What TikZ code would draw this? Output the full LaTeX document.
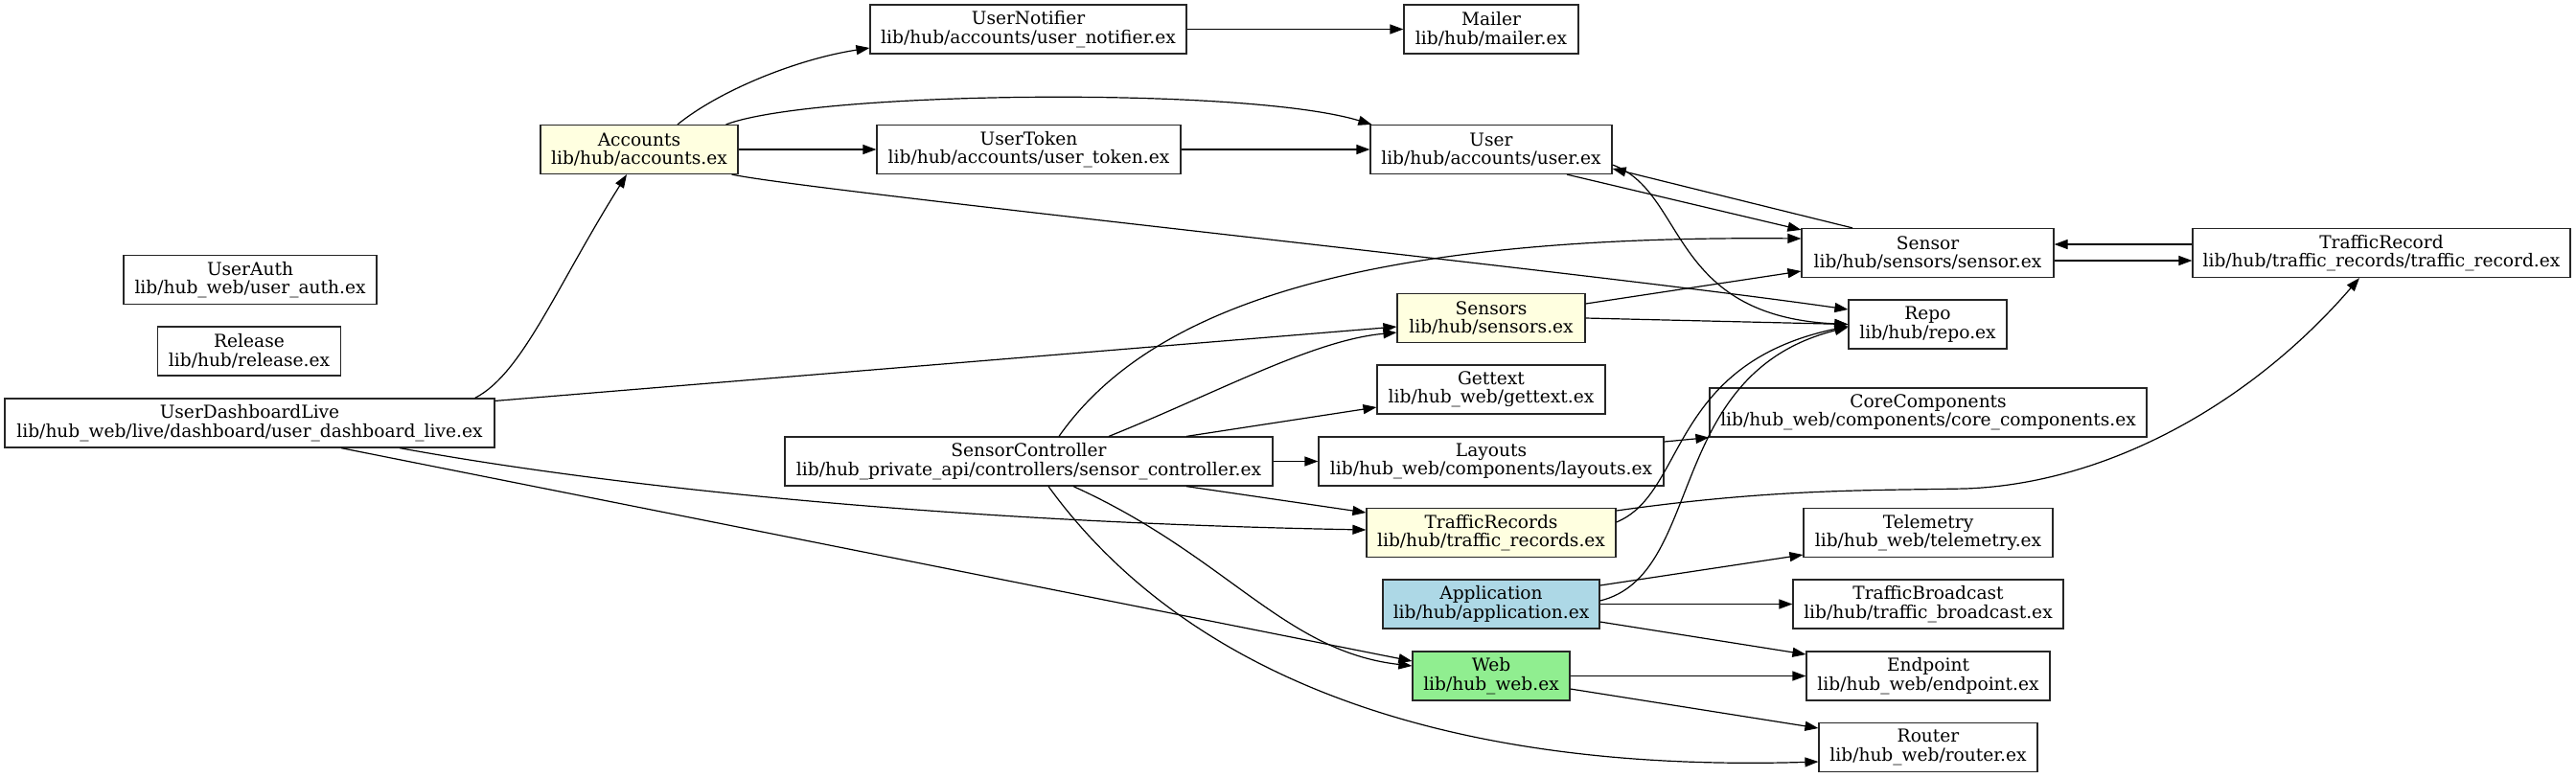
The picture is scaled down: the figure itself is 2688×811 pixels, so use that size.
\documentclass[tikz,border=0pt]{standalone}
\usepackage{fontspec}
\setmainfont{DejaVu Serif}
\usetikzlibrary{arrows.meta}
\definecolor{lyellow}{HTML}{FFFFE0}
\definecolor{lblue}{HTML}{ADD8E6}
\definecolor{lgreen}{HTML}{90EE90}
\begin{document}
\begin{tikzpicture}[x=0.5pt,y=-0.5pt,
  mod/.style={draw=black!85, line width=0.6pt, minimum height=25.5pt, inner sep=0pt, align=center, font=\fontsize{9.3}{9.75}\selectfont},
  dep/.style={-{Triangle[length=7pt,width=5pt]}, line width=0.6pt}]
\useasboundingbox (0,0) rectangle (2688,811);
% nodes
\node[mod, minimum width=165pt] (UserNotifier) at (1073,30.5) {UserNotifier\\lib/hub/accounts/user\_notifier.ex};
\node[mod, minimum width=91pt] (Mailer) at (1556,30.5) {Mailer\\lib/hub/mailer.ex};
\node[mod, minimum width=103pt, fill=lyellow] (Accounts) at (667,156) {Accounts\\lib/hub/accounts.ex};
\node[mod, minimum width=158.5pt] (UserToken) at (1073.5,156) {UserToken\\lib/hub/accounts/user\_token.ex};
\node[mod, minimum width=126pt] (User) at (1556,156) {User\\lib/hub/accounts/user.ex};
\node[mod, minimum width=131.5pt] (Sensor) at (2011.5,264) {Sensor\\lib/hub/sensors/sensor.ex};
\node[mod, minimum width=197pt] (TrafficRecord) at (2485,264) {TrafficRecord\\lib/hub/traffic\_records/traffic\_record.ex};
\node[mod, minimum width=132pt] (UserAuth) at (261,292) {UserAuth\\lib/hub\_web/user\_auth.ex};
\node[mod, minimum width=98pt, fill=lyellow] (Sensors) at (1556,332) {Sensors\\lib/hub/sensors.ex};
\node[mod, minimum width=82.5pt] (Repo) at (2011.5,338.5) {Repo\\lib/hub/repo.ex};
\node[mod, minimum width=95.5pt] (Release) at (260,366.5) {Release\\lib/hub/release.ex};
\node[mod, minimum width=119pt] (Gettext) at (1556,406.5) {Gettext\\lib/hub\_web/gettext.ex};
\node[mod, minimum width=228pt] (CoreComponents) at (2012,430.5) {CoreComponents\\lib/hub\_web/components/core\_components.ex};
\node[mod, minimum width=255.5pt] (UserDashboardLive) at (260.5,441.5) {UserDashboardLive\\lib/hub\_web/live/dashboard/user\_dashboard\_live.ex};
\node[mod, minimum width=254.5pt] (SensorController) at (1073.5,481.5) {SensorController\\lib/hub\_private\_api/controllers/sensor\_controller.ex};
\node[mod, minimum width=180pt] (Layouts) at (1556,481.5) {Layouts\\lib/hub\_web/components/layouts.ex};
\node[mod, minimum width=130pt, fill=lyellow] (TrafficRecords) at (1556,556) {TrafficRecords\\lib/hub/traffic\_records.ex};
\node[mod, minimum width=130pt] (Telemetry) at (2012,556) {Telemetry\\lib/hub\_web/telemetry.ex};
\node[mod, minimum width=113pt, fill=lblue] (Application) at (1556,630.5) {Application\\lib/hub/application.ex};
\node[mod, minimum width=141pt] (TrafficBroadcast) at (2012,630.5) {TrafficBroadcast\\lib/hub/traffic\_broadcast.ex};
\node[mod, minimum width=82pt, fill=lgreen] (Web) at (1556,705.5) {Web\\lib/hub\_web.ex};
\node[mod, minimum width=127pt] (Endpoint) at (2012,705.5) {Endpoint\\lib/hub\_web/endpoint.ex};
\node[mod, minimum width=114pt] (Router) at (2012,780) {Router\\lib/hub\_web/router.ex};
% edges
\draw[dep] ([xshift=20pt]Accounts.north) .. controls (750,95) and (830,62) .. ([yshift=-9.75pt]UserNotifier.west);
\draw[dep] ([xshift=-6.5pt]Accounts.north east) .. controls (850,95) and (1300,90) .. ([xshift=1pt]User.north west);
\draw[dep] (Accounts.east) -- (UserToken.west);
\draw[dep] (UserToken.east) -- (User.west);
\draw[dep] (UserNotifier.east) -- (Mailer.west);
\draw[dep] ([xshift=-3.5pt]Accounts.south east) .. controls (850,200) and (1650,283) .. ([yshift=7.75pt]Repo.west);
\draw[dep] ([xshift=39.5pt]User.south) -- ([yshift=-1pt]Sensor.north west);
\draw[dep] ([xshift=-39.25pt]Sensor.north) -- ([yshift=-10pt]User.east);
\draw[dep] ([yshift=-4pt]Sensor.east) -- ([yshift=-4pt]TrafficRecord.west);
\draw[dep] ([yshift=4.5pt]TrafficRecord.west) -- ([yshift=4.5pt]Sensor.east);
\draw[dep] ([xshift=15.75pt]SensorController.north) .. controls (1200,320) and (1420,245) .. ([yshift=7.5pt]Sensor.west);
\draw[dep] ([yshift=7.5pt]Sensors.east) -- ([yshift=-9.5pt]Sensor.west);
\draw[dep] (Sensors.east) -- (Repo.west);
\draw[dep] ([yshift=-1.5pt]UserDashboardLive.north east) -- ([yshift=-4.5pt]Sensors.west);
\draw[dep] ([xshift=41.75pt]SensorController.north) .. controls (1270,410) and (1370,355) .. ([yshift=-7.5pt]Sensors.west);
\draw[dep] ([xshift=-10.5pt]UserDashboardLive.north east) .. controls (545,390) and (580,300) .. ([xshift=-6.5pt]Accounts.south);
\draw[dep] ([xshift=82.25pt]SensorController.north) -- ([yshift=-9.25pt]Gettext.west);
\draw[dep] (SensorController.east) -- (Layouts.west);
\draw[dep] ([yshift=10.25pt]Layouts.east) -- (CoreComponents.south west);
\draw[dep] ([xshift=82.25pt]SensorController.south) -- ([yshift=10.5pt]TrafficRecords.west);
\draw[dep] ([xshift=78.25pt]UserDashboardLive.south) .. controls (650,510) and (1000,545) .. ([yshift=1.5pt]TrafficRecords.west);
\draw[dep] ([yshift=11.5pt]TrafficRecords.east) .. controls (1850,510) and (1950,512) .. (2050,510) .. controls (2200,505) and (2350,420) .. ([xshift=-11.5pt]TrafficRecord.south);
\draw[dep] ([yshift=5.5pt]TrafficRecords.east) .. controls (1760,515) and (1740,380) .. ([yshift=-1pt]Repo.west);
\draw[dep] ([yshift=1.75pt]Application.east) .. controls (1780,600) and (1735,390) .. ([yshift=-1.5pt]Repo.west);
\draw[dep] ([yshift=-8pt]User.east) .. controls (1760,200) and (1740,330) .. (Repo.west);
\draw[dep] ([yshift=9.75pt]Application.east) -- ([yshift=-11.5pt]Telemetry.west);
\draw[dep] (Application.east) -- (TrafficBroadcast.west);
\draw[dep] ([yshift=-9.25pt]Application.east) -- ([yshift=11.25pt]Endpoint.west);
\draw[dep] (Web.east) -- (Endpoint.west);
\draw[dep] ([yshift=-6.75pt]Web.east) -- ([yshift=10pt]Router.west);
\draw[dep] ([xshift=10.25pt]SensorController.south) .. controls (1190,640) and (1400,810) .. ([yshift=-7.5pt]Router.west);
\draw[dep] ([xshift=23.25pt]SensorController.south) .. controls (1280,580) and (1340,680) .. ([yshift=5.25pt]Web.west);
\draw[dep] ([xshift=47.75pt]UserDashboardLive.south) -- ([yshift=7.75pt]Web.west);
\end{tikzpicture}
\end{document}
